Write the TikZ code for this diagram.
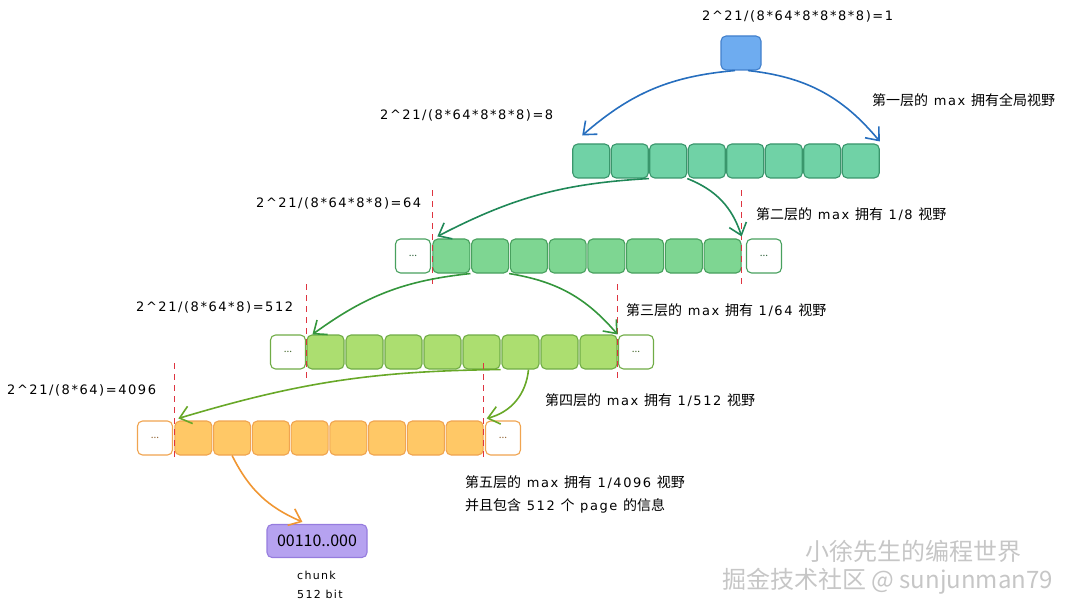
\documentclass[tikz,border=0pt]{standalone}
\usepackage{fontspec}
\setmainfont{Noto Sans CJK SC}
\newfontfamily\hand[LetterSpace=12]{DejaVu Sans}
\usetikzlibrary{arrows.meta}

\definecolor{topfill}{RGB}{110,172,240}
\definecolor{topline}{RGB}{66,128,204}
\definecolor{onefill}{RGB}{112,210,166}
\definecolor{oneline}{RGB}{58,150,108}
\definecolor{twofill}{RGB}{126,214,146}
\definecolor{twoline}{RGB}{72,160,94}
\definecolor{threefill}{RGB}{172,222,112}
\definecolor{threeline}{RGB}{112,172,70}
\definecolor{fourfill}{RGB}{255,200,102}
\definecolor{fourline}{RGB}{240,164,80}
\definecolor{chunkfill}{RGB}{182,162,240}
\definecolor{chunkline}{RGB}{150,124,222}
\definecolor{toparrow}{RGB}{38,110,190}
\definecolor{onearrow}{RGB}{32,136,88}
\definecolor{twoarrow}{RGB}{52,150,60}
\definecolor{threearrow}{RGB}{104,168,40}
\definecolor{fourarrow}{RGB}{240,150,50}
\definecolor{cut}{RGB}{222,52,64}

\tikzset{
cell/.style={draw=#1line,fill=#1fill,line width=1.1pt,rounded corners=5pt,minimum width=37pt,minimum height=34pt,inner sep=0pt},
dots/.style={draw=#1line,fill=white,text=#1line!60!black,line width=1.1pt,rounded corners=5pt,minimum width=35pt,minimum height=34pt,inner sep=0pt,font=\fontsize{10}{10}\selectfont},
link/.style={draw=#1,line width=1.6pt,-{Straight Barb[length=11pt,width=18pt]}},
cutline/.style={draw=cut,line width=1.3pt,dash pattern=on 6pt off 5pt},
note/.style={anchor=west,inner sep=0pt,font=\fontsize{14}{16}\selectfont},
eqn/.style={anchor=west,inner sep=0pt,font=\fontsize{13}{16}\hand},
watermark/.style={anchor=west,inner sep=0pt,text=gray!45},
}

\providecommand{\Cell}[3]{
\node[cell=#3] (#1) at (#2) {};
}
\providecommand{\Dots}[3]{
\node[dots=#3] (#1) at (#2) {...};
}
\providecommand{\Cut}[4]{
\draw[cutline] ([yshift=#3pt]#1) -- ([yshift=-#4pt]#2);
}
\providecommand{\Lat}[1]{{\fontsize{13}{16}\hand#1}}

\begin{document}
\begin{tikzpicture}[x=1pt,y=-1pt]
\useasboundingbox (0,0) rectangle (1080,615);
\node[cell=top,minimum width=40pt] (top) at (741,53) {};
\Cell{a1}{591.25,161}{one}\Cell{a2}{629.75,161}{one}\Cell{a3}{668.25,161}{one}\Cell{a4}{706.75,161}{one}
\Cell{a5}{745.25,161}{one}\Cell{a6}{783.75,161}{one}\Cell{a7}{822.25,161}{one}\Cell{a8}{860.75,161}{one}
\Dots{b0}{413,256}{two}\Cell{b1}{451.4,256}{two}\Cell{b2}{490.1,256}{two}\Cell{b3}{528.9,256}{two}\Cell{b4}{567.6,256}{two}
\Cell{b5}{606.4,256}{two}\Cell{b6}{645.1,256}{two}\Cell{b7}{683.9,256}{two}\Cell{b8}{722.6,256}{two}\Dots{b9}{764,256}{two}
\Dots{c0}{288,352}{three}\Cell{c1}{325.5,352}{three}\Cell{c2}{364.5,352}{three}\Cell{c3}{403.5,352}{three}\Cell{c4}{442.5,352}{three}
\Cell{c5}{481.5,352}{three}\Cell{c6}{520.5,352}{three}\Cell{c7}{559.5,352}{three}\Cell{c8}{598.5,352}{three}\Dots{c9}{636,352}{three}
\Dots{d0}{155,438}{four}\Cell{d1}{193.4,438}{four}\Cell{d2}{232.1,438}{four}\Cell{d3}{270.9,438}{four}\Cell{d4}{309.6,438}{four}
\Cell{d5}{348.4,438}{four}\Cell{d6}{387.1,438}{four}\Cell{d7}{425.9,438}{four}\Cell{d8}{464.6,438}{four}\Dots{d9}{503,438}{four}
\node[cell=chunk,minimum width=100pt,minimum height=33pt,font=\fontsize{16}{16}\selectfont] (chunk) at (317,541) {00110..000};

\Cut{b1.north west}{b1.south west}{48}{10}\Cut{b8.north east}{b8.south east}{48}{10}
\Cut{c1.north west}{c1.south west}{50}{8}\Cut{c8.north east}{c8.south east}{50}{8}
\Cut{d1.north west}{d1.south west}{57}{4}\Cut{d8.north east}{d8.south east}{57}{6}

\draw[link=toparrow] ([xshift=-6pt]top.south) to[bend right=18] ([xshift=10pt,yshift=8pt]a1.north west);
\draw[link=toparrow] ([xshift=7pt]top.south) to[bend left=22] ([yshift=2pt]a8.north east);
\draw[link=onearrow] (a2.south east) to[bend right=12] ([xshift=5pt,yshift=2pt]b1.north west);
\draw[link=onearrow] (a3.south east) to[bend left=25] ([yshift=2pt]b8.north east);
\draw[link=twoarrow] (b1.south east) to[bend right=15] ([xshift=6pt]c1.north west);
\draw[link=twoarrow] (b2.south east) to[bend left=20] (c8.north east);
\draw[link=threearrow] (c5.south east) to[bend right=8] ([xshift=4pt,yshift=2pt]d1.north west);
\draw[link=threearrow] ([xshift=8pt]c6.south) to[bend left=35] ([xshift=3pt,yshift=2pt]d8.north east);
\draw[link=fourarrow] (d2.south) to[bend right=20] ([xshift=36pt,yshift=2pt]chunk.north west);

\node[eqn] (eq0) at (702,16) {2\^{}21/(8*64*8*8*8*8)=1};
\node[eqn] (eq1) at (380,115) {2\^{}21/(8*64*8*8*8)=8};
\node[eqn] (eq2) at (256,203) {2\^{}21/(8*64*8*8)=64};
\node[eqn] (eq3) at (136,307) {2\^{}21/(8*64*8)=512};
\node[eqn] (eq4) at (7,390) {2\^{}21/(8*64)=4096};
\node[note] (l1) at (872,100) {第一层的\Lat{ max }拥有全局视野};
\node[note] (l2) at (756,214) {第二层的\Lat{ max }拥有\Lat{ 1/8 }视野};
\node[note] (l3) at (626,310) {第三层的\Lat{ max }拥有\Lat{ 1/64 }视野};
\node[note] (l4) at (545,400) {第四层的\Lat{ max }拥有\Lat{ 1/512 }视野};
\node[note,anchor=north west,align=left,font=\fontsize{14}{23}\selectfont] (l5) at (465,475) {第五层的\Lat{ max }拥有\Lat{ 1/4096 }视野\\并且包含\Lat{ 512 }个\Lat{ page }的信息};
\node[eqn,anchor=north west,align=left,font=\fontsize{11}{19}\hand] (chunklabel) at (297,571) {chunk\\512 bit};
\node[watermark,font=\fontsize{24}{24}\selectfont] (mark1) at (805,551) {小徐先生的编程世界};
\node[watermark,font=\fontsize{24}{24}\selectfont] (mark2) at (722,581) {掘金技术社区 @ sunjunman79};
\end{tikzpicture}
\end{document}
